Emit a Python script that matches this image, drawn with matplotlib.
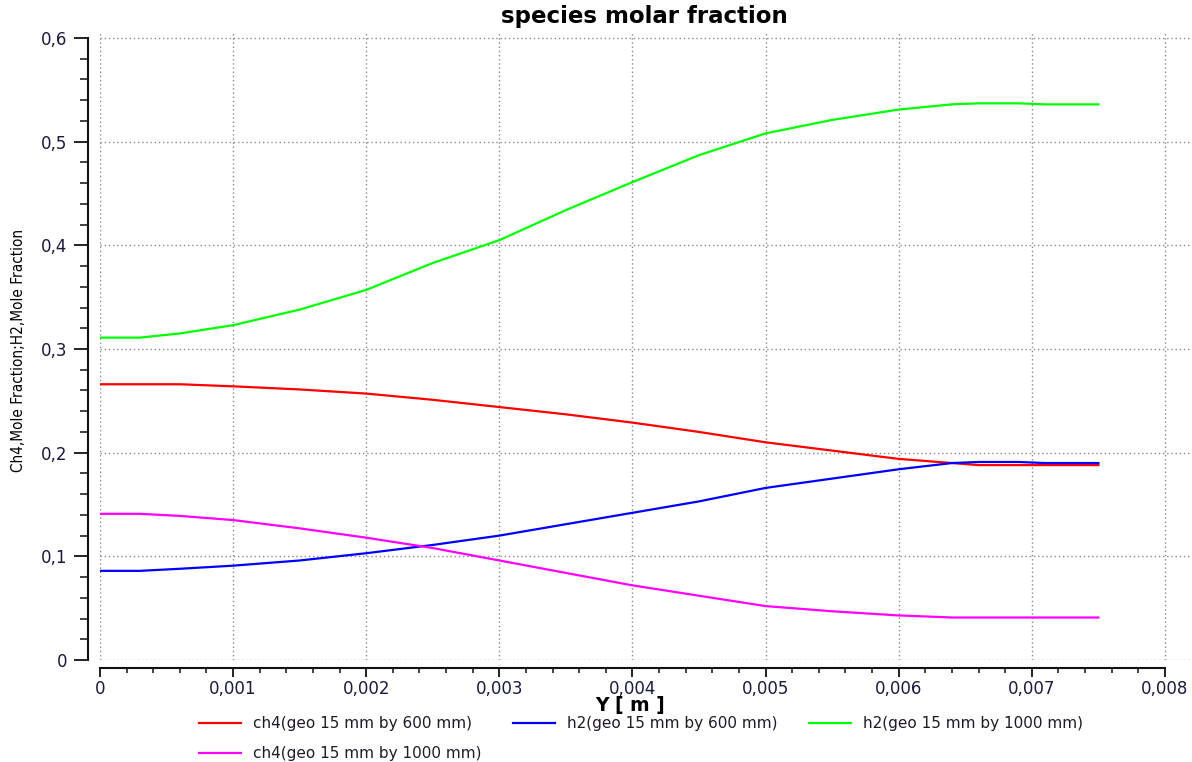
import matplotlib
matplotlib.use("Agg")
import matplotlib.pyplot as plt
from matplotlib.ticker import FixedLocator, FuncFormatter

# Position along the channel width [m]
y_pos = [0.0, 0.0003, 0.0006, 0.001, 0.0015, 0.002, 0.0025, 0.003, 0.0035,
         0.004, 0.0045, 0.005, 0.0055, 0.006, 0.0064, 0.0066, 0.0069,
         0.0071, 0.0075]

# Mole fractions
ch4_600 = [0.266, 0.266, 0.266, 0.264, 0.261, 0.257, 0.251, 0.244, 0.237,
           0.229, 0.220, 0.210, 0.202, 0.194, 0.190, 0.188, 0.188,
           0.188, 0.188]
h2_600 = [0.086, 0.086, 0.088, 0.091, 0.096, 0.103, 0.111, 0.120, 0.131,
          0.142, 0.153, 0.166, 0.175, 0.184, 0.190, 0.191, 0.191,
          0.190, 0.190]
h2_1000 = [0.311, 0.311, 0.315, 0.323, 0.338, 0.357, 0.383, 0.405, 0.434,
           0.461, 0.487, 0.508, 0.521, 0.531, 0.536, 0.537, 0.537,
           0.536, 0.536]
ch4_1000 = [0.141, 0.141, 0.139, 0.135, 0.127, 0.118, 0.108, 0.096, 0.084,
            0.072, 0.062, 0.052, 0.047, 0.043, 0.041, 0.041, 0.041,
            0.041, 0.041]

labels = ["ch4(geo 15 mm by 600 mm)", "h2(geo 15 mm by 600 mm)",
          "h2(geo 15 mm by 1000 mm)", "ch4(geo 15 mm by 1000 mm)"]
colors = ["#ff0000", "#0000ff", "#00ff00", "#ff00ff"]

x_major = [i * 0.001 for i in range(9)]
x_minor = [i * 0.0002 for i in range(41)]
y_major = [i * 0.1 for i in range(7)]
y_minor = [i * 0.02 for i in range(31)]

TXT = "#1a1a3c"
W, H = 1192, 762
fig = plt.figure(figsize=(W / 100, H / 100), dpi=100)
ax = fig.add_axes([100 / W, 102 / H, 1091.6 / W, 628.2 / H])

series = [ch4_600, h2_600, h2_1000, ch4_1000]
handles = []
for vals, lab, col in zip(series, labels, colors):
    ln, = ax.plot(y_pos, vals, color=col, lw=1.6, label=lab)
    handles.append(ln)

for s in ("top", "right"):
    ax.spines[s].set_visible(False)
ax.spines["left"].set_position(("outward", 8.64))
ax.spines["bottom"].set_position(("outward", 5.76))
for s in ("left", "bottom"):
    ax.spines[s].set_linewidth(1.5)
    ax.spines[s].set_color("#111111")


def comma_fmt(v, _pos):
    if abs(v) < 1e-12:
        return "0"
    s = f"{v:.3f}".rstrip("0").rstrip(".")
    return s.replace(".", ",")


ax.xaxis.set_major_locator(FixedLocator(x_major))
ax.xaxis.set_minor_locator(FixedLocator(x_minor))
ax.yaxis.set_major_locator(FixedLocator(y_major))
ax.yaxis.set_minor_locator(FixedLocator(y_minor))
ax.xaxis.set_major_formatter(FuncFormatter(comma_fmt))
ax.yaxis.set_major_formatter(FuncFormatter(comma_fmt))

ax.set_xlim(0, 0.0082)
ax.set_ylim(0, 0.606)
ax.spines["left"].set_bounds(0, 0.6)
ax.spines["bottom"].set_bounds(0, 0.008)

ax.tick_params(axis="y", which="major", length=10, width=1.3, pad=5,
               labelsize=12, labelcolor=TXT, color="#111111")
ax.tick_params(axis="y", which="minor", length=6, width=1.1, color="#111111")
ax.tick_params(axis="x", which="major", length=6.5, width=1.3, pad=2.5,
               labelsize=12, labelcolor=TXT, color="#111111")
ax.tick_params(axis="x", which="minor", length=3.8, width=1.1, color="#111111")

ax.grid(True, which="major", color="#8a8a8a", linestyle=(0, (1, 2)), lw=1.0)
ax.set_axisbelow(True)

fig.text(644 / W, 1 - 17 / H, "species molar fraction", ha="center",
         va="center", fontsize=16.5, fontweight="bold", color="#000000")
fig.text(630 / W, 1 - 706 / H, "Y [ m ]", ha="center", va="center",
         fontsize=13.5, fontweight="bold", color="#000000")
fig.text(19 / W, 1 - 350 / H, "Ch4,Mole Fraction;H2,Mole Fraction",
         rotation=90, ha="center", va="center", fontsize=11,
         family=["DejaVu Sans"], fontstretch="condensed", color="#000000")

order = [0, 3, 1, 2]
leg = fig.legend([handles[i] for i in order], [labels[i] for i in order],
                 ncol=3, loc="upper left", bbox_to_anchor=(199 / W, 1 - 716 / H),
                 frameon=False, fontsize=11, handlelength=2.75,
                 handletextpad=0.8, columnspacing=2.05, labelspacing=1.0,
                 borderpad=0, borderaxespad=0)
for t in leg.get_texts():
    t.set_color("#201a28")

fig.savefig("out.png", dpi=100)
